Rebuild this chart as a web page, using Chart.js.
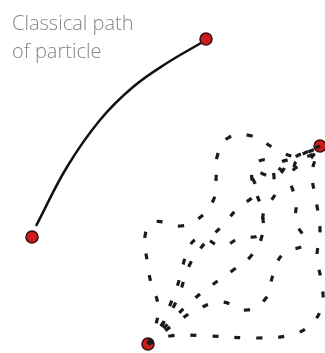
<!DOCTYPE html>
<html>
<head>
<meta charset="utf-8">
<script src="https://cdn.jsdelivr.net/npm/chart.js@4/dist/chart.umd.min.js"></script>
<style>
  html, body { margin: 0; padding: 0; background: #fff; }
  #wrap { width: 325px; height: 353px; }
</style>
</head>
<body>
<div id="wrap"><canvas id="c" width="325" height="353"></canvas></div>
<script>
// picture coordinates, y grows downwards
var labelLines = ['Classical path', 'of particle'];

var endPoints = [[32, 237], [206, 39], [320, 146], [148, 344]];

var classicalPath = [[36, 226], [67, 167], [100, 120], [133, 87], [167, 63], [201, 43]];

var quantumPath1 = [[148, 344], [170, 336], [208, 336], [258, 338], [290, 335], [310, 325], [322, 305],
    [321, 280], [317, 258], [320, 230], [316, 200], [312, 175], [315, 160], [320, 146]];
var quantumPath2 = [[148, 344], [155, 328], [158, 305], [151, 283], [147, 260], [145, 236], [154, 222],
    [180, 226], [198, 219], [213, 201], [216, 180], [217, 157], [228, 138], [252, 136], [274, 148],
    [296, 157], [313, 154], [320, 146]];
var quantumPath3 = [[148, 344], [160, 330], [168, 310], [177, 287], [183, 265], [190, 245], [202, 238],
    [222, 246], [240, 238], [260, 234], [262, 211], [256, 192], [252, 172], [262, 160], [275, 166],
    [291, 174], [297, 160], [320, 146]];
var quantumPath4 = [[148, 344], [170, 322], [193, 300], [212, 285], [232, 271], [251, 256], [262, 236],
    [264, 211], [276, 192], [274, 177], [275, 166], [296, 157], [320, 146]];
var quantumPath5 = [[148, 344], [180, 320], [200, 308], [222, 302], [247, 310], [266, 298], [273, 275],
    [283, 254], [305, 243], [296, 222], [296, 202], [291, 174], [309, 160], [320, 146]];
var quantumPath6 = [[148, 344], [158, 330], [176, 302], [190, 264], [205, 243], [222, 226], [238, 208],
    [256, 192], [252, 172], [276, 176], [291, 160], [310, 150], [320, 146]];

var quantumPaths = [quantumPath1, quantumPath2, quantumPath3, quantumPath4, quantumPath5, quantumPath6];

function toPoints(arr) {
    return arr.map(function (p) { return { x: p[0], y: p[1] }; });
}

var datasets = [];
quantumPaths.forEach(function (path) {
    datasets.push({
        data: toPoints(path),
        showLine: true,
        borderColor: '#1b1b1b',
        borderWidth: 3.2,
        borderDash: [6, 16],
        borderCapStyle: 'butt',
        tension: 0.45,
        pointRadius: 0,
        clip: false
    });
});

datasets.push({
    data: toPoints(classicalPath),
    showLine: true,
    borderColor: '#111',
    borderWidth: 2.5,
    tension: 0.4,
    pointRadius: 0,
    clip: false
});

datasets.push({
    data: toPoints(endPoints),
    showLine: false,
    pointRadius: 6,
    pointBackgroundColor: '#c91d1d',
    pointBorderColor: '#3c0b0b',
    pointBorderWidth: 1.5,
    clip: false
});

// caption in the top left corner
var captionPlugin = {
    id: 'caption',
    afterDraw: function (chart) {
        var ctx = chart.ctx;
        ctx.save();
        ctx.fillStyle = '#858585';
        ctx.font = '300 20px "Open Sans"';
        ctx.textBaseline = 'alphabetic';
        ctx.fillText(labelLines[0], 12, 30);
        ctx.fillText(labelLines[1], 12, 58);
        ctx.restore();
    }
};

new Chart(document.getElementById('c').getContext('2d'), {
    type: 'scatter',
    data: { datasets: datasets },
    options: {
        responsive: false,
        animation: false,
        layout: { padding: 0, autoPadding: false },
        plugins: { legend: { display: false }, tooltip: { enabled: false } },
        scales: {
            x: { type: 'linear', min: 0, max: 325, display: false },
            y: { type: 'linear', min: 0, max: 353, reverse: true, display: false }
        }
    },
    plugins: [captionPlugin]
});
</script>
</body>
</html>
